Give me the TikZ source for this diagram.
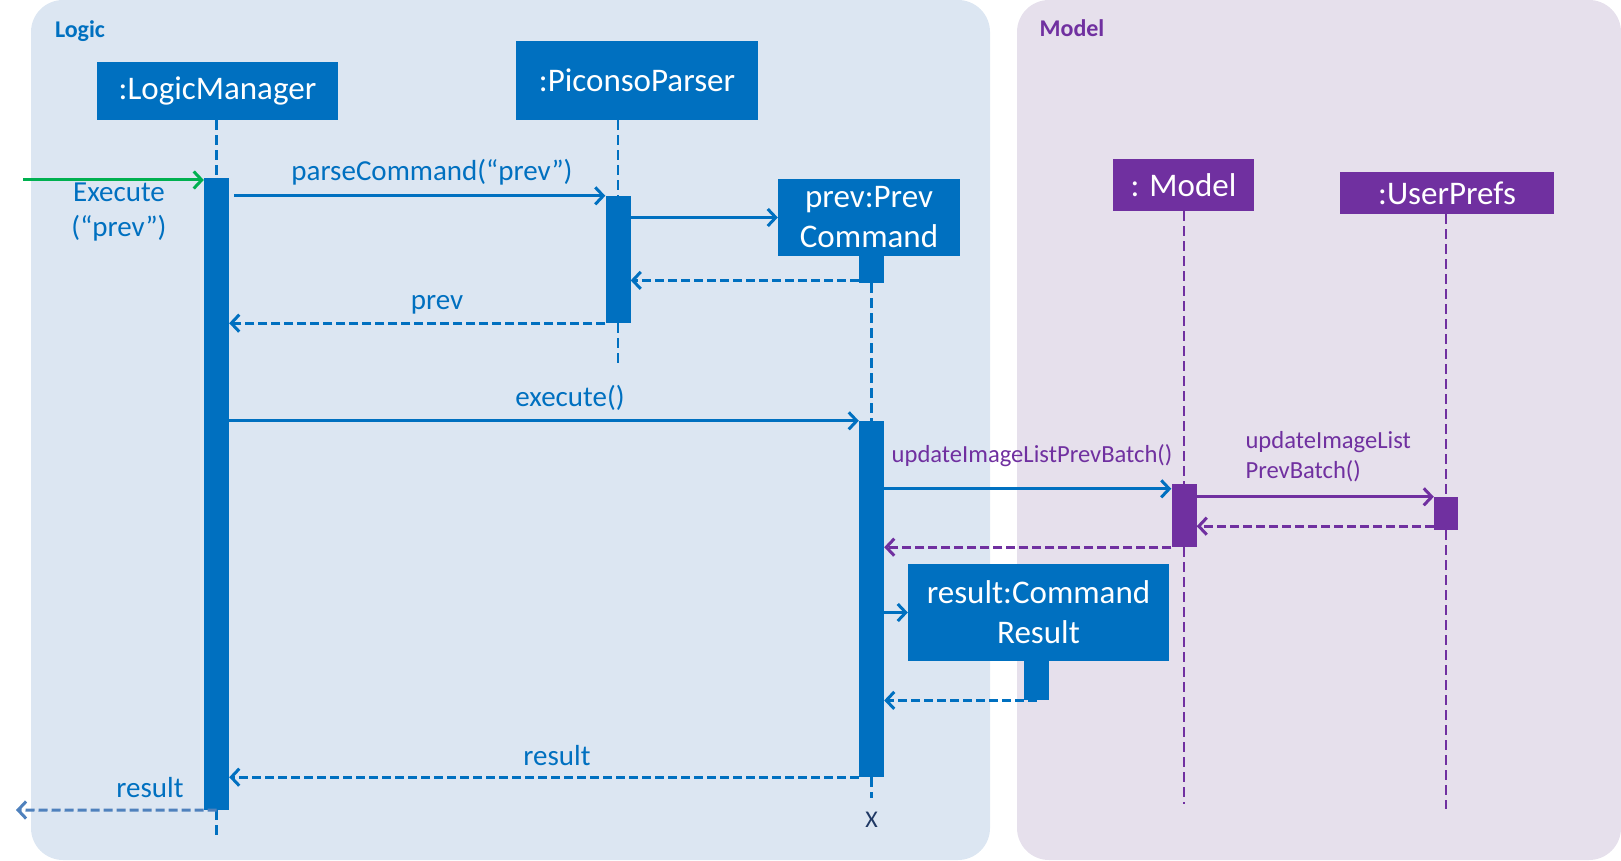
\documentclass[tikz,border=0pt]{standalone}
\usepackage{fontspec}
\setmainfont{Carlito}
\usetikzlibrary{arrows.meta}

\definecolor{logicblue}{HTML}{0070C0}
\definecolor{modelpurple}{HTML}{7030A0}
\definecolor{entrygreen}{HTML}{00B050}
\definecolor{logicbg}{HTML}{DCE6F2}
\definecolor{modelbg}{HTML}{E6E0EC}
\definecolor{outblue}{HTML}{4F81BD}
\definecolor{endnavy}{HTML}{1F3864}

\begin{document}
\begin{tikzpicture}[x=1pt, y=-1pt,
        obj/.style={fill=logicblue, text=white, inner sep=0pt, align=center, font=\fontsize{33}{40}\selectfont},
        mobj/.style={obj, fill=modelpurple},
        act/.style={fill=logicblue, minimum width=25pt, inner sep=0pt},
        mact/.style={act, fill=modelpurple},
        life/.style={logicblue, line width=2.5pt, dash pattern=on 10pt off 5pt},
        mlife/.style={life, modelpurple},
        call/.style={logicblue, line width=3pt, -{Straight Barb[length=8pt, width=17pt, line width=3pt]}},
        ret/.style={call, dash pattern=on 9pt off 4pt},
        lbl/.style={text=logicblue, font=\fontsize{29}{35}\selectfont, align=center},
        mlbl/.style={text=modelpurple, font=\fontsize{24.6}{30}\selectfont, align=left},
        title/.style={font=\bfseries\fontsize{24}{28}\selectfont}
        ]
        \useasboundingbox (0,0) rectangle (1621,861);

        % panels
        \fill[logicbg, rounded corners=32pt] (31,0) rectangle (990,860);
        \fill[modelbg, rounded corners=32pt] (1017,0) rectangle (1621,860);
        \node[title, text=logicblue] (logicTitle) at (80,31) {Logic};
        \node[title, text=modelpurple] (modelTitle) at (1072,28) {Model};

        % objects
        \node[obj, minimum width=241pt, minimum height=58pt] (lmBox) at (217.5,91) {:LogicManager};
        \node[obj, minimum width=242pt, minimum height=79pt] (ppBox) at (637,80.5) {:PiconsoParser};
        \node[obj, minimum width=182pt, minimum height=77pt] (pcBox) at (869,217.5) {prev:Prev\\Command};
        \node[mobj, minimum width=141pt, minimum height=52pt] (mdBox) at (1183.5,185) {: Model};
        \node[mobj, minimum width=214pt, minimum height=42pt] (upBox) at (1447,193) {:UserPrefs};
        \node[obj, minimum width=261pt, minimum height=97pt] (rsBox) at (1038.5,612.5) {result:Command\\Result};

        % activation bars
        \node[act, minimum height=632pt] (lmA) at (216.5,494) {};
        \node[act, minimum height=127pt] (ppA) at (618,259.5) {};
        \node[act, minimum height=27pt, anchor=north] (pcS) at (871.5,256) {};
        \node[act, minimum height=356pt] (pcA) at (871.5,599) {};
        \node[mact, minimum height=63pt] (mdA) at (1184,515.5) {};
        \node[mact, minimum width=24pt, minimum height=33pt] (upA) at (1446,513.5) {};
        \node[act, minimum height=39pt, anchor=north] (rsA) at (1036.5,661) {};

        % lifelines
        \draw[life] (lmBox.south -| lmA.north) -- (lmA.north);
        \draw[life] (lmA.south) -- ++(0,25);
        \draw[life] (ppBox.south -| ppA.north) -- (ppA.north);
        \draw[life] (ppA.south) -- ++(0,42);
        \draw[life] (pcS.south) -- (pcA.north);
        \draw[life] (pcA.south) -- ++(0,21);
        \node[text=endnavy, font=\fontsize{24}{28}\selectfont] (pcX) at (871.5,820) {X};
        \draw[mlife] (mdBox.south -| mdA.north) -- (mdA.north);
        \draw[mlife] (mdA.south) -- ++(0,257);
        \draw[mlife] (upBox.south -| upA.north) -- (upA.north);
        \draw[mlife] (upA.south) -- ++(0,279);

        % messages
        \coordinate (entry) at (23,180);
        \draw[call, entrygreen] (entry) -- (entry -| lmA.west);
        \node[lbl] (execLbl) at (119,212) {Execute\\(“prev”)};

        \draw[call, shorten <=5pt] (lmA.east |- ppA.north) -- (ppA.north west);
        \node[lbl] (parseLbl) at (432,172) {parseCommand(“prev”)};
        \draw[call] (ppA.east |- pcBox.west) -- (pcBox.west);
        \coordinate (pcOut) at ([yshift=3pt]pcS.south west);
        \draw[ret] (pcOut) -- (pcOut -| ppA.east);
        \draw[ret] (ppA.south west) -- (ppA.south west -| lmA.east);
        \node[lbl] (prevLbl) at (437,305) {prev};

        \draw[call] (lmA.east |- pcA.north) -- (pcA.north west);
        \node[lbl] (execCallLbl) at (570,398) {execute()};

        \coordinate (mdIn) at ([yshift=-5pt]mdA.north west);
        \draw[call] (pcA.east |- mdIn) -- (mdIn);
        \node[mlbl] (updLbl) at (1032,456) {updateImageListPrevBatch()};
        \draw[call, modelpurple] (mdA.east |- upA.north) -- (upA.north west);
        \node[mlbl, anchor=west] (updUpLbl) at (1242,457) {updateImageList\\PrevBatch()};
        \coordinate (upOut) at ([yshift=4pt]upA.south west);
        \draw[ret, modelpurple] (upOut) -- (upOut -| mdA.east);
        \draw[ret, modelpurple] (mdA.south west) -- (mdA.south west -| pcA.east);

        \draw[call] (pcA.east |- rsBox.west) -- (rsBox.west);
        \draw[ret] (rsA.south) -- (rsA.south -| pcA.east);

        \draw[ret] (pcA.south west) -- (pcA.south west -| lmA.east);
        \node[lbl] (resLbl) at (557,756) {result};
        \coordinate (exit) at (16,810);
        \draw[ret, outblue] (lmA.south) -- (exit);
        \node[lbl] (resOutLbl) at (150,788) {result};
\end{tikzpicture}
\end{document}
